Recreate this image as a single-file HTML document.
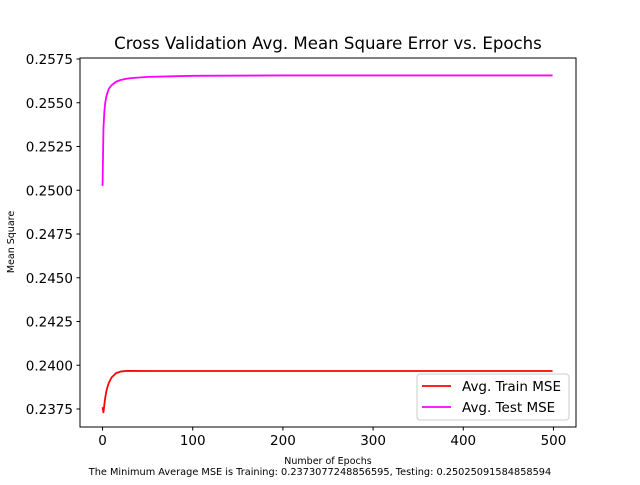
<!DOCTYPE html>
<html><head><meta charset="utf-8"><style>
body{margin:0;background:#fff;}
svg{font-family:"DejaVu Sans","Liberation Sans",sans-serif;}
</style></head><body>
<svg id="chart" width="640" height="480" viewBox="0 0 640 480">
<rect width="640" height="480" fill="#fff"/>
<text x="328" y="49" font-size="16.6" text-anchor="middle">Cross Validation Avg. Mean Square Error vs. Epochs</text>
<g id="xticks"></g>
<g id="yticks"></g>
<g id="series"></g>
<rect x="80" y="58" width="496" height="369" fill="none" stroke="#000" stroke-width="1"/>
<text x="328" y="464" font-size="9.5" text-anchor="middle">Number of Epochs</text>
<text transform="translate(14,242) rotate(-90)" font-size="9.5" text-anchor="middle">Mean Square</text>
<text x="320" y="475" font-size="9.75" text-anchor="middle">The Minimum Average MSE is Training: 0.2373077248856595, Testing: 0.25025091584858594</text>
<g>
<rect x="417" y="374" width="152" height="46" rx="3" fill="#fff" fill-opacity="0.8" stroke="#ccc"/>
<line x1="422" y1="386" x2="451" y2="386" stroke="#f00" stroke-width="1.8"/>
<text x="462" y="391" font-size="13.5">Avg. Train MSE</text>
<line x1="422" y1="407" x2="451" y2="407" stroke="#f0f" stroke-width="1.8"/>
<text x="462" y="412" font-size="13.5">Avg. Test MSE</text>
</g>
</svg>
<script>
const epochs = [0,1,2,3,4,5,7,10,15,20,25,30,50,100,200,300,400,499];
const trainMSE = [0.23760,0.23731,0.23775,0.23815,0.23845,0.23868,0.23900,0.23930,0.23955,0.23964,0.23967,0.23968,0.23967,0.23967,0.23967,0.23967,0.23967,0.23967];
const testMSE = [0.25025,0.25350,0.25450,0.25500,0.25530,0.25550,0.25580,0.25600,0.25620,0.25630,0.25636,0.25640,0.25648,0.25654,0.25656,0.25656,0.25656,0.25656];
const xTicks = [0,100,200,300,400,500];
const yTicks = [0.2375,0.2400,0.2425,0.2450,0.2475,0.2500,0.2525,0.2550,0.2575];
const ns="http://www.w3.org/2000/svg";
const X = v => 80 + (v + 25) * 496 / 550;
const Y = v => 409 - (v - 0.2375) * 17500;
function el(t,a,p){const e=document.createElementNS(ns,t);for(const k in a)e.setAttribute(k,a[k]);p.appendChild(e);return e;}
const gx=document.getElementById('xticks'), gy=document.getElementById('yticks'), gs=document.getElementById('series');
xTicks.forEach(t=>{
  el('line',{x1:X(t),x2:X(t),y1:427,y2:430.5,stroke:'#000'},gx);
  const tx=el('text',{x:X(t),y:445,'font-size':13.5,'text-anchor':'middle'},gx);
  
  
  tx.textContent=t;
});
yTicks.forEach(t=>{
  el('line',{x1:76.5,x2:80,y1:Y(t),y2:Y(t),stroke:'#000'},gy);
  const tx=el('text',{x:73,y:Y(t)+5,'font-size':13.5,'text-anchor':'end'},gy);
  
  
  tx.textContent=t.toFixed(4);
});
function line(vals,color,name){
  const p=el('polyline',{points:epochs.map((e,i)=>X(e)+','+Y(vals[i])).join(' '),fill:'none',stroke:color,'stroke-width':1.8,'stroke-linejoin':'round'},gs);
  
  
}
line(trainMSE,'#f00','train-mse-line');
line(testMSE,'#f0f','test-mse-line');
</script>
</body></html>
